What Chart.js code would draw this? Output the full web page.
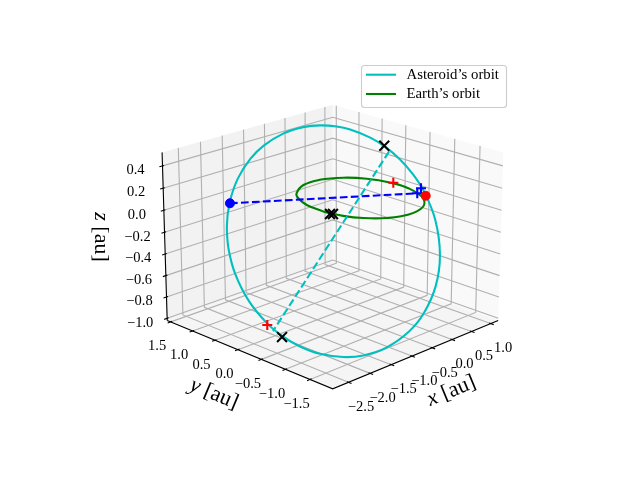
<!DOCTYPE html>
<html>
<head>
<meta charset="utf-8">
<script src="https://cdn.jsdelivr.net/npm/chart.js@4"></script>
<style>body{margin:0;background:#fff}canvas{display:block}</style>
</head>
<body>
<canvas id="orbitChart" width="640" height="480"></canvas>
<script>
// values, in au
const asteroidX = [-1.977, -1.776, -1.485, -1.127, -0.815, -0.415, -0.076, 0.178, 0.404, 0.565, 0.767, 0.878, 0.964, 0.997, 0.978, 0.846, 0.557, 0.191, -0.241, -0.617, -1.068, -1.447, -1.730, -2.010, -2.208, -2.348, -2.437, -2.478, -2.415, -2.284, -2.125, -1.977];
const asteroidY = [1.030, 1.148, 1.256, 1.313, 1.308, 1.233, 1.107, 0.968, 0.801, 0.649, 0.390, 0.185, -0.068, -0.318, -0.563, -0.916, -1.248, -1.459, -1.567, -1.576, -1.498, -1.352, -1.185, -0.951, -0.714, -0.474, -0.229, 0.114, 0.461, 0.720, 0.907, 1.030];
const asteroidZ = [-0.075, 0.038, 0.172, 0.301, 0.387, 0.465, 0.502, 0.508, 0.494, 0.467, 0.403, 0.337, 0.242, 0.133, 0.012, -0.193, -0.432, -0.636, -0.810, -0.921, -1.012, -1.051, -1.052, -1.021, -0.965, -0.891, -0.801, -0.650, -0.468, -0.308, -0.175, -0.075];

const earthX = [-0.988, -0.949, -0.805, -0.639, -0.236, 0.169, 0.552, 0.806, 0.942, 0.937, 0.721, 0.385, -0.076, -0.472, -0.747, -0.909, -0.988];
const earthY = [-0.132, 0.258, 0.568, 0.756, 0.965, 0.968, 0.784, 0.491, 0.115, -0.293, -0.760, -1.025, -1.110, -0.984, -0.746, -0.470, -0.132];
const earthZ = [0, 0, 0, 0, 0, 0, 0, 0, 0, 0, 0, 0, 0, 0, 0, 0, 0];

const blueDotX = [-1.834], blueDotY = [1.110], blueDotZ = [0.004];
const redDotX = [0.856], redDotY = [-0.705], redDotZ = [0];
const blackCrossX = [0.884, -2.362, -0.997, -0.961];
const blackCrossY = [0.189, -0.477, -0.274, -0.305];
const blackCrossZ = [0.340, -0.897, 0, 0];
const redPlusX = [0.978, -2.449];
const redPlusY = [0.068, -0.248];
const redPlusZ = [0, -0.813];
const bluePlusX = [1.095, 0.848];
const bluePlusY = [-0.417, -0.538];
const bluePlusZ = [0, 0];
const sightX = [-1.834, 0.848], sightY = [1.110, -0.538], sightZ = [0.004, 0];
const apsidesX = [0.889, -2.427], apsidesY = [0.093, -0.348], apsidesZ = [0.297, -0.855];

const xTicks = [-2.5, -2.0, -1.5, -1.0, -0.5, 0.0, 0.5, 1.0];
const yTicks = [-1.5, -1.0, -0.5, 0.0, 0.5, 1.0, 1.5];
const zTicks = [-1.0, -0.8, -0.6, -0.4, -0.2, 0.0, 0.2, 0.4];

// limits of the box and the view of the 3d axes
const X0 = -2.86, X1 = 1.2, Y0 = -1.95, Y1 = 1.58, Z0 = -1.02, Z1 = 0.52;
const elev = 20 * Math.PI / 180, azim = -135 * Math.PI / 180;
const halfSide = 0.594, halfHeight = 0.447, camDist = 10, zoom = 2000, midX = 332.7, midY = 237.7;

const view = [Math.cos(elev) * Math.cos(azim), Math.cos(elev) * Math.sin(azim), Math.sin(elev)];
const right = [-Math.sin(azim), Math.cos(azim), 0];
const up = [-Math.sin(elev) * Math.cos(azim), -Math.sin(elev) * Math.sin(azim), Math.cos(elev)];

function project(x, y, z) {
    const p = [
        ((x - X0) / (X1 - X0) * 2 - 1) * halfSide,
        ((y - Y0) / (Y1 - Y0) * 2 - 1) * halfSide,
        ((z - Z0) / (Z1 - Z0) * 2 - 1) * halfHeight
    ];
    const dot = (a) => a[0] * p[0] + a[1] * p[1] + a[2] * p[2];
    const d = camDist - dot(view);
    return { x: midX + zoom * dot(right) / d, y: midY - zoom * dot(up) / d };
}

const points = (xs, ys, zs) => xs.map((x, i) => project(x, ys[i], zs[i]));

function path(pts, color, width, extra) {
    return Object.assign({
        data: pts, showLine: true, borderColor: color, borderWidth: width,
        pointRadius: 0, tension: 0
    }, extra);
}
function marks(xs, ys, zs, style, color, radius, width) {
    return {
        data: points(xs, ys, zs), showLine: false, pointStyle: style,
        pointRadius: radius, pointBorderColor: color, pointBackgroundColor: color, pointBorderWidth: width
    };
}
const pane = (corners, color) => path(corners, 'rgba(0,0,0,0)', 0, { fill: 'shape', backgroundColor: color });

const gridColor = '#b0b0b0', gridWidth = 1.1;
const grid = [
    ...xTicks.map((t) => path([project(t, Y0, Z0), project(t, Y1, Z0), project(t, Y1, Z1)], gridColor, gridWidth)),
    ...yTicks.map((t) => path([project(X0, t, Z0), project(X1, t, Z0), project(X1, t, Z1)], gridColor, gridWidth)),
    ...zTicks.map((t) => path([project(X0, Y1, t), project(X1, Y1, t), project(X1, Y0, t)], gridColor, gridWidth))
];
const tickMarks = [
    ...xTicks.map((t) => path([project(t, Y0 + 0.03, Z0), project(t, Y0 - 0.06, Z0)], '#000', 1.1)),
    ...yTicks.map((t) => path([project(X0 + 0.034, t, Z0), project(X0 - 0.068, t, Z0)], '#000', 1.1)),
    ...zTicks.map((t) => path([project(X0 + 0.034, Y1, t), project(X0 - 0.068, Y1, t)], '#000', 1.1))
];

const dash = [7.7, 3.3];
const datasets = [
    marks(redDotX, redDotY, redDotZ, 'circle', '#ff0000', 4.5, 1),
    marks(blueDotX, blueDotY, blueDotZ, 'circle', '#0000ff', 4.5, 1),
    marks(blackCrossX, blackCrossY, blackCrossZ, 'crossRot', '#000', 7, 2),
    marks(bluePlusX, bluePlusY, bluePlusZ, 'cross', '#0000ff', 5, 2.1),
    marks(redPlusX, redPlusY, redPlusZ, 'cross', '#ff0000', 5, 2.1),
    path(points(sightX, sightY, sightZ), '#0000ff', 2.08, { borderDash: dash }),
    path(points(apsidesX, apsidesY, apsidesZ), '#00bfbf', 2.08, { borderDash: dash }),
    path(points(earthX, earthY, earthZ), '#008000', 2.08, { tension: 0.4 }),
    path(points(asteroidX, asteroidY, asteroidZ), '#00bfbf', 2.08, { tension: 0.4 }),
    ...tickMarks,
    path([project(X0, Y1, Z0), project(X0, Y1, Z1)], '#000', 1.1),
    path([project(X0, Y1, Z0), project(X0, Y0, Z0), project(X1, Y0, Z0)], '#000', 1.1),
    ...grid,
    pane([project(X0, Y0, Z0), project(X1, Y0, Z0), project(X1, Y1, Z0), project(X0, Y1, Z0)], '#f5f5f5'),
    pane([project(X1, Y0, Z0), project(X1, Y1, Z0), project(X1, Y1, Z1), project(X1, Y0, Z1)], '#f9f9f9'),
    pane([project(X0, Y1, Z0), project(X1, Y1, Z0), project(X1, Y1, Z1), project(X0, Y1, Z1)], '#f2f2f2')
];

const serif = '"Liberation Serif"';
const tickText = (t) => (t < 0 ? '\u2212' : '') + Math.abs(t).toFixed(1);

// axis label: italic letter, then the upright unit
function axisLabel(ctx, letter, px, py, angle) {
    ctx.save();
    ctx.translate(px, py);
    ctx.rotate(angle * Math.PI / 180);
    ctx.fillStyle = '#000';
    ctx.textBaseline = 'middle';
    ctx.textAlign = 'left';
    ctx.font = 'italic 22px ' + serif;
    const w1 = ctx.measureText(letter).width;
    ctx.font = '22px ' + serif;
    const unit = ' [au]';
    const w2 = ctx.measureText(unit).width;
    ctx.font = 'italic 22px ' + serif;
    ctx.fillText(letter, -(w1 + w2) / 2, 0);
    ctx.font = '22px ' + serif;
    ctx.fillText(unit, -(w1 + w2) / 2 + w1, 0);
    ctx.restore();
}

const textPlugin = {
    id: 'textPlugin',
    afterDraw(chart) {
        const ctx = chart.ctx;
        const px = (v) => chart.scales.x.getPixelForValue(v);
        const py = (v) => chart.scales.y.getPixelForValue(v);
        ctx.save();
        ctx.fillStyle = '#000';
        ctx.font = '14.5px ' + serif;
        ctx.textAlign = 'center';
        ctx.textBaseline = 'middle';
        xTicks.forEach((t) => {
            const p = project(t, Y0, Z0);
            ctx.fillText(tickText(t), px(p.x + 12.5), py(p.y + 25));
        });
        yTicks.forEach((t) => {
            const p = project(X0, t, Z0);
            ctx.fillText(tickText(t), px(p.x - 13.5), py(p.y + 24.5));
        });
        zTicks.forEach((t) => {
            const p = project(X0, Y1, t);
            ctx.fillText(tickText(t), px(p.x - 27), py(p.y + 4.5));
        });
        ctx.restore();

        axisLabel(ctx, 'x', 451.5, 391, -22.4);
        axisLabel(ctx, 'y', 214, 394, 22.9);
        axisLabel(ctx, 'z', 101, 237, 90);

        // legend frame
        ctx.save();
        ctx.beginPath();
        ctx.roundRect(361.5, 65.5, 145, 42, 3);
        ctx.fillStyle = 'rgba(255,255,255,0.8)';
        ctx.fill();
        ctx.strokeStyle = '#cccccc';
        ctx.lineWidth = 1.1;
        ctx.stroke();
        const rows = [['Asteroid\u2019s orbit', '#00bfbf', 74.7], ['Earth\u2019s orbit', '#008000', 94]];
        rows.forEach(([label, color, ly]) => {
            ctx.beginPath();
            ctx.moveTo(366, ly);
            ctx.lineTo(396, ly);
            ctx.strokeStyle = color;
            ctx.lineWidth = 2.08;
            ctx.stroke();
            ctx.fillStyle = '#000';
            ctx.font = '14.8px ' + serif;
            ctx.textAlign = 'left';
            ctx.textBaseline = 'middle';
            ctx.fillText(label, 406.5, ly);
        });
        ctx.restore();
    }
};

new Chart(document.getElementById('orbitChart').getContext('2d'), {
    type: 'scatter',
    data: { datasets },
    options: {
        responsive: false,
        devicePixelRatio: 1,
        animation: false,
        layout: { padding: 0, autoPadding: false },
        scales: {
            x: { type: 'linear', min: 0, max: 640, display: false },
            y: { type: 'linear', min: 0, max: 480, reverse: true, display: false }
        },
        plugins: { legend: { display: false }, tooltip: { enabled: false } }
    },
    plugins: [textPlugin]
});
</script>
</body>
</html>
